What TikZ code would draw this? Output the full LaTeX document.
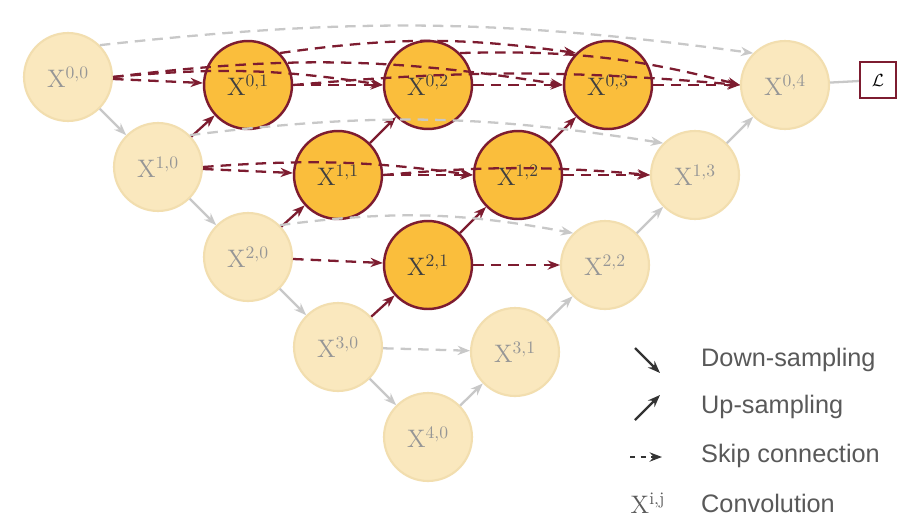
\documentclass[tikz,border=0pt]{standalone}
\usepackage{fontspec}
\newfontfamily\legfont{Liberation Sans}
\usetikzlibrary{arrows.meta}
\definecolor{fadefill}{RGB}{250,232,190}
\definecolor{fadeline}{RGB}{242,222,175}
\definecolor{hotfill}{RGB}{250,190,60}
\definecolor{hotline}{RGB}{125,28,48}
\definecolor{greyarrow}{RGB}{200,200,200}
\definecolor{greytext}{RGB}{150,150,150}
\tikzset{
    x=0.02cm, y=-0.02cm,
    }
\begin{document}
\begin{tikzpicture}[
fadenode/.style={circle, draw=fadeline, fill=fadefill, line width=1.2pt, minimum size=1.76cm, text=greytext, font=\Large},
hotnode/.style={circle, draw=hotline, fill=hotfill, line width=1.4pt, minimum size=1.76cm, text=black!75, font=\Large},
down/.style={greyarrow, line width=1.3pt, -{Stealth[length=7pt]}},
uphot/.style={hotline, line width=1.3pt, -{Stealth[length=7pt]}},
skiphot/.style={hotline, dash pattern=on 6pt off 4pt, line width=1.3pt, -{Stealth[length=7pt]}},
skipfade/.style={greyarrow, dash pattern=on 6pt off 4pt, line width=1.3pt, -{Stealth[length=7pt]}},
]
\useasboundingbox[fill=white] (0,0) rectangle (917,531);
% encoder column
\node[fadenode] (x00) at (68,77) {X$^{0,0}$};
\node[fadenode] (x10) at (158,167) {X$^{1,0}$};
\node[fadenode] (x20) at (248,257) {X$^{2,0}$};
\node[fadenode] (x30) at (338,347) {X$^{3,0}$};
\node[fadenode] (x40) at (428,437) {X$^{4,0}$};
% nested nodes
\node[hotnode] (x01) at (248,85) {X$^{0,1}$};
\node[hotnode] (x02) at (428,85) {X$^{0,2}$};
\node[hotnode] (x03) at (608,85) {X$^{0,3}$};
\node[fadenode] (x04) at (785,85) {X$^{0,4}$};
\node[hotnode] (x11) at (338,175) {X$^{1,1}$};
\node[hotnode] (x12) at (518,175) {X$^{1,2}$};
\node[fadenode] (x13) at (695,175) {X$^{1,3}$};
\node[hotnode] (x21) at (428,265) {X$^{2,1}$};
\node[fadenode] (x22) at (605,265) {X$^{2,2}$};
\node[fadenode] (x31) at (515,352) {X$^{3,1}$};
\node[draw=hotline, line width=1.2pt, minimum size=0.72cm] (loss) at (878,80) {$\mathcal{L}$};
\draw[greyarrow, line width=1.3pt] (x04) -- (loss);

% down-sampling
\foreach \a/\b in {x00/x10, x10/x20, x20/x30, x30/x40}
  \draw[down] (\a) -- (\b);
% up-sampling
\foreach \a/\b in {x40/x31, x31/x22, x22/x13, x13/x04}
  \draw[down] (\a) -- (\b);
\foreach \a/\b in {x10/x01, x20/x11, x11/x02, x30/x21, x21/x12, x12/x03}
  \draw[uphot] (\a) -- (\b);

% skip connections
\draw[skiphot] (x00) -- (x01);
\draw[skiphot] (x01) -- (x02);
\draw[skiphot] (x02) -- (x03);
\draw[skiphot] (x03) -- (x04);
\draw[skiphot] (x00.east) to[bend left=7] (x02.west);
\draw[skiphot] (x01.north east) to[bend left=8] (x03.north west);
\draw[skiphot] (x02.north east) to[bend left=8] (x04.west);
\draw[skiphot] (x00.east) to[bend left=8] (x03.west);
\draw[skiphot] (x01.east) to[bend left=5] (x04.west);
\draw[skipfade] (x00.north east) to[bend left=7] (x04.north west);
\draw[skiphot] (x10) -- (x11);
\draw[skiphot] (x11) -- (x12);
\draw[skiphot] (x12) -- (x13);
\draw[skiphot] (x10.east) to[bend left=6] (x12.west);
\draw[skiphot] (x11.east) to[bend left=5] (x13.west);
\draw[skipfade] (x10.north east) to[bend left=8] (x13.north west);
\draw[skiphot] (x20) -- (x21);
\draw[skiphot] (x21) -- (x22);
\draw[skipfade] (x20.north east) to[bend left=9] (x22.north west);
\draw[skipfade] (x30) -- (x31);

% legend
\coordinate (d1) at (635,348);
\coordinate (d2) at (660,373);
\draw[black!80, line width=1.4pt, -{Stealth[length=7pt]}] (d1) -- (d2);
\node[anchor=west, font=\legfont\Large, text=black!65] (ldown) at (695,360) {Down-sampling};
\coordinate (u1) at (635,420);
\coordinate (u2) at (660,395);
\draw[black!80, line width=1.4pt, -{Stealth[length=7pt]}] (u1) -- (u2);
\node[anchor=west, font=\legfont\Large, text=black!65] (lup) at (695,407) {Up-sampling};
\coordinate (s1) at (630,457);
\coordinate (s2) at (662,457);
\draw[black!80, dashed, line width=1.4pt, -{Stealth[length=7pt]}] (s1) -- (s2);
\node[anchor=west, font=\legfont\Large, text=black!65] (lskip) at (695,456) {Skip connection};
\node[font=\Large, text=black!65] (lconv) at (648,503) {X$^{\mathrm{i,j}}$};
\node[anchor=west, font=\legfont\Large, text=black!65] (lconvt) at (695,503) {Convolution};
\end{tikzpicture}
\end{document}
